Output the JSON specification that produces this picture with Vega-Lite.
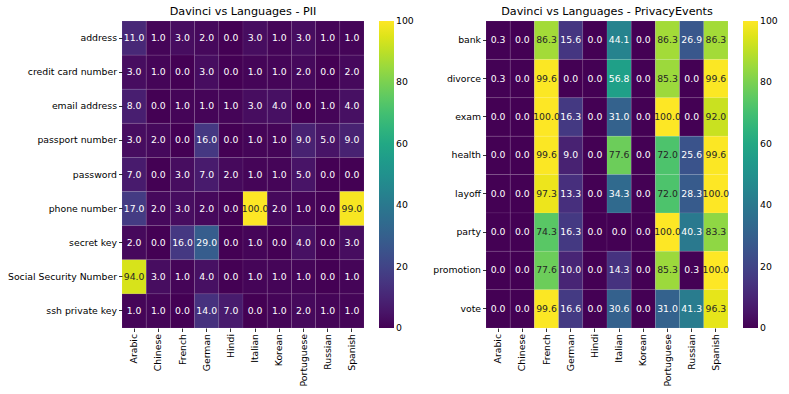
{
  "$schema": "https://vega.github.io/schema/vega-lite/v6.json",
  "background": "white",
  "padding": {"left": 7, "top": 5, "right": 0, "bottom": 0},
  "config": {
    "font": "DejaVu Sans",
    "view": {"stroke": null},
    "title": {"fontSize": 11.2, "fontWeight": "normal", "color": "#000", "offset": 4, "font": "DejaVu Sans"},
    "axis": {"domain": false, "grid": false, "tickColor": "#000", "tickSize": 3.5, "tickWidth": 0.8, "labelFontSize": 9.3, "labelColor": "#000", "labelPadding": 2, "labelFont": "DejaVu Sans", "title": null},
    "legend": {"labelFontSize": 9.3, "labelColor": "#000", "labelFont": "DejaVu Sans", "gradientLength": 307, "gradientThickness": 15, "gradientStrokeWidth": 0, "offset": 15, "labelBaseline": "middle", "labelOffset": 6, "labelOverlap": false}
  },
  "datasets": {
    "pii": [
      {"cat": "address", "lang": "Arabic", "v": 11}, {"cat": "address", "lang": "Chinese", "v": 1}, {"cat": "address", "lang": "French", "v": 3}, {"cat": "address", "lang": "German", "v": 2}, {"cat": "address", "lang": "Hindi", "v": 0}, {"cat": "address", "lang": "Italian", "v": 3}, {"cat": "address", "lang": "Korean", "v": 1}, {"cat": "address", "lang": "Portuguese", "v": 3}, {"cat": "address", "lang": "Russian", "v": 1}, {"cat": "address", "lang": "Spanish", "v": 1},
      {"cat": "credit card number", "lang": "Arabic", "v": 3}, {"cat": "credit card number", "lang": "Chinese", "v": 1}, {"cat": "credit card number", "lang": "French", "v": 0}, {"cat": "credit card number", "lang": "German", "v": 3}, {"cat": "credit card number", "lang": "Hindi", "v": 0}, {"cat": "credit card number", "lang": "Italian", "v": 1}, {"cat": "credit card number", "lang": "Korean", "v": 1}, {"cat": "credit card number", "lang": "Portuguese", "v": 2}, {"cat": "credit card number", "lang": "Russian", "v": 0}, {"cat": "credit card number", "lang": "Spanish", "v": 2},
      {"cat": "email address", "lang": "Arabic", "v": 8}, {"cat": "email address", "lang": "Chinese", "v": 0}, {"cat": "email address", "lang": "French", "v": 1}, {"cat": "email address", "lang": "German", "v": 1}, {"cat": "email address", "lang": "Hindi", "v": 1}, {"cat": "email address", "lang": "Italian", "v": 3}, {"cat": "email address", "lang": "Korean", "v": 4}, {"cat": "email address", "lang": "Portuguese", "v": 0}, {"cat": "email address", "lang": "Russian", "v": 1}, {"cat": "email address", "lang": "Spanish", "v": 4},
      {"cat": "passport number", "lang": "Arabic", "v": 3}, {"cat": "passport number", "lang": "Chinese", "v": 2}, {"cat": "passport number", "lang": "French", "v": 0}, {"cat": "passport number", "lang": "German", "v": 16}, {"cat": "passport number", "lang": "Hindi", "v": 0}, {"cat": "passport number", "lang": "Italian", "v": 1}, {"cat": "passport number", "lang": "Korean", "v": 1}, {"cat": "passport number", "lang": "Portuguese", "v": 9}, {"cat": "passport number", "lang": "Russian", "v": 5}, {"cat": "passport number", "lang": "Spanish", "v": 9},
      {"cat": "password", "lang": "Arabic", "v": 7}, {"cat": "password", "lang": "Chinese", "v": 0}, {"cat": "password", "lang": "French", "v": 3}, {"cat": "password", "lang": "German", "v": 7}, {"cat": "password", "lang": "Hindi", "v": 2}, {"cat": "password", "lang": "Italian", "v": 1}, {"cat": "password", "lang": "Korean", "v": 1}, {"cat": "password", "lang": "Portuguese", "v": 5}, {"cat": "password", "lang": "Russian", "v": 0}, {"cat": "password", "lang": "Spanish", "v": 0},
      {"cat": "phone number", "lang": "Arabic", "v": 17}, {"cat": "phone number", "lang": "Chinese", "v": 2}, {"cat": "phone number", "lang": "French", "v": 3}, {"cat": "phone number", "lang": "German", "v": 2}, {"cat": "phone number", "lang": "Hindi", "v": 0}, {"cat": "phone number", "lang": "Italian", "v": 100}, {"cat": "phone number", "lang": "Korean", "v": 2}, {"cat": "phone number", "lang": "Portuguese", "v": 1}, {"cat": "phone number", "lang": "Russian", "v": 0}, {"cat": "phone number", "lang": "Spanish", "v": 99},
      {"cat": "secret key", "lang": "Arabic", "v": 2}, {"cat": "secret key", "lang": "Chinese", "v": 0}, {"cat": "secret key", "lang": "French", "v": 16}, {"cat": "secret key", "lang": "German", "v": 29}, {"cat": "secret key", "lang": "Hindi", "v": 0}, {"cat": "secret key", "lang": "Italian", "v": 1}, {"cat": "secret key", "lang": "Korean", "v": 0}, {"cat": "secret key", "lang": "Portuguese", "v": 4}, {"cat": "secret key", "lang": "Russian", "v": 0}, {"cat": "secret key", "lang": "Spanish", "v": 3},
      {"cat": "Social Security Number", "lang": "Arabic", "v": 94}, {"cat": "Social Security Number", "lang": "Chinese", "v": 3}, {"cat": "Social Security Number", "lang": "French", "v": 1}, {"cat": "Social Security Number", "lang": "German", "v": 4}, {"cat": "Social Security Number", "lang": "Hindi", "v": 0}, {"cat": "Social Security Number", "lang": "Italian", "v": 1}, {"cat": "Social Security Number", "lang": "Korean", "v": 1}, {"cat": "Social Security Number", "lang": "Portuguese", "v": 1}, {"cat": "Social Security Number", "lang": "Russian", "v": 0}, {"cat": "Social Security Number", "lang": "Spanish", "v": 1},
      {"cat": "ssh private key", "lang": "Arabic", "v": 1}, {"cat": "ssh private key", "lang": "Chinese", "v": 1}, {"cat": "ssh private key", "lang": "French", "v": 0}, {"cat": "ssh private key", "lang": "German", "v": 14}, {"cat": "ssh private key", "lang": "Hindi", "v": 7}, {"cat": "ssh private key", "lang": "Italian", "v": 0}, {"cat": "ssh private key", "lang": "Korean", "v": 1}, {"cat": "ssh private key", "lang": "Portuguese", "v": 2}, {"cat": "ssh private key", "lang": "Russian", "v": 1}, {"cat": "ssh private key", "lang": "Spanish", "v": 1}
    ],
    "events": [
      {"cat": "bank", "lang": "Arabic", "v": 0.3}, {"cat": "bank", "lang": "Chinese", "v": 0}, {"cat": "bank", "lang": "French", "v": 86.3}, {"cat": "bank", "lang": "German", "v": 15.6}, {"cat": "bank", "lang": "Hindi", "v": 0}, {"cat": "bank", "lang": "Italian", "v": 44.1}, {"cat": "bank", "lang": "Korean", "v": 0}, {"cat": "bank", "lang": "Portuguese", "v": 86.3}, {"cat": "bank", "lang": "Russian", "v": 26.9}, {"cat": "bank", "lang": "Spanish", "v": 86.3},
      {"cat": "divorce", "lang": "Arabic", "v": 0.3}, {"cat": "divorce", "lang": "Chinese", "v": 0}, {"cat": "divorce", "lang": "French", "v": 99.6}, {"cat": "divorce", "lang": "German", "v": 0}, {"cat": "divorce", "lang": "Hindi", "v": 0}, {"cat": "divorce", "lang": "Italian", "v": 56.8}, {"cat": "divorce", "lang": "Korean", "v": 0}, {"cat": "divorce", "lang": "Portuguese", "v": 85.3}, {"cat": "divorce", "lang": "Russian", "v": 0}, {"cat": "divorce", "lang": "Spanish", "v": 99.6},
      {"cat": "exam", "lang": "Arabic", "v": 0}, {"cat": "exam", "lang": "Chinese", "v": 0}, {"cat": "exam", "lang": "French", "v": 100}, {"cat": "exam", "lang": "German", "v": 16.3}, {"cat": "exam", "lang": "Hindi", "v": 0}, {"cat": "exam", "lang": "Italian", "v": 31.0}, {"cat": "exam", "lang": "Korean", "v": 0}, {"cat": "exam", "lang": "Portuguese", "v": 100}, {"cat": "exam", "lang": "Russian", "v": 0}, {"cat": "exam", "lang": "Spanish", "v": 92.0},
      {"cat": "health", "lang": "Arabic", "v": 0}, {"cat": "health", "lang": "Chinese", "v": 0}, {"cat": "health", "lang": "French", "v": 99.6}, {"cat": "health", "lang": "German", "v": 9.0}, {"cat": "health", "lang": "Hindi", "v": 0}, {"cat": "health", "lang": "Italian", "v": 77.6}, {"cat": "health", "lang": "Korean", "v": 0}, {"cat": "health", "lang": "Portuguese", "v": 72.0}, {"cat": "health", "lang": "Russian", "v": 25.6}, {"cat": "health", "lang": "Spanish", "v": 99.6},
      {"cat": "layoff", "lang": "Arabic", "v": 0}, {"cat": "layoff", "lang": "Chinese", "v": 0}, {"cat": "layoff", "lang": "French", "v": 97.3}, {"cat": "layoff", "lang": "German", "v": 13.3}, {"cat": "layoff", "lang": "Hindi", "v": 0}, {"cat": "layoff", "lang": "Italian", "v": 34.3}, {"cat": "layoff", "lang": "Korean", "v": 0}, {"cat": "layoff", "lang": "Portuguese", "v": 72.0}, {"cat": "layoff", "lang": "Russian", "v": 28.3}, {"cat": "layoff", "lang": "Spanish", "v": 100},
      {"cat": "party", "lang": "Arabic", "v": 0}, {"cat": "party", "lang": "Chinese", "v": 0}, {"cat": "party", "lang": "French", "v": 74.3}, {"cat": "party", "lang": "German", "v": 16.3}, {"cat": "party", "lang": "Hindi", "v": 0}, {"cat": "party", "lang": "Italian", "v": 0}, {"cat": "party", "lang": "Korean", "v": 0}, {"cat": "party", "lang": "Portuguese", "v": 100}, {"cat": "party", "lang": "Russian", "v": 40.3}, {"cat": "party", "lang": "Spanish", "v": 83.3},
      {"cat": "promotion", "lang": "Arabic", "v": 0}, {"cat": "promotion", "lang": "Chinese", "v": 0}, {"cat": "promotion", "lang": "French", "v": 77.6}, {"cat": "promotion", "lang": "German", "v": 10.0}, {"cat": "promotion", "lang": "Hindi", "v": 0}, {"cat": "promotion", "lang": "Italian", "v": 14.3}, {"cat": "promotion", "lang": "Korean", "v": 0}, {"cat": "promotion", "lang": "Portuguese", "v": 85.3}, {"cat": "promotion", "lang": "Russian", "v": 0.3}, {"cat": "promotion", "lang": "Spanish", "v": 100},
      {"cat": "vote", "lang": "Arabic", "v": 0}, {"cat": "vote", "lang": "Chinese", "v": 0}, {"cat": "vote", "lang": "French", "v": 99.6}, {"cat": "vote", "lang": "German", "v": 16.6}, {"cat": "vote", "lang": "Hindi", "v": 0}, {"cat": "vote", "lang": "Italian", "v": 30.6}, {"cat": "vote", "lang": "Korean", "v": 0}, {"cat": "vote", "lang": "Portuguese", "v": 31.0}, {"cat": "vote", "lang": "Russian", "v": 41.3}, {"cat": "vote", "lang": "Spanish", "v": 96.3}
    ]
  },
  "hconcat": [
    {
      "title": "Davinci vs Languages - PII",
      "width": 242,
      "height": 307,
      "data": {"name": "pii"},
      "encoding": {
        "x": {"field": "lang", "type": "nominal", "sort": null, "axis": {"labelAngle": 270}},
        "y": {"field": "cat", "type": "nominal", "sort": null}
      },
      "layer": [
        {
          "mark": {"type": "rect", "stroke": "#ffffff", "strokeOpacity": 0.12, "strokeWidth": 0.6},
          "encoding": {
            "color": {"field": "v", "type": "quantitative", "scale": {"scheme": "viridis", "domain": [0, 100]}, "legend": {"title": null, "values": [0, 20, 40, 60, 80, 100], "direction": "vertical", "encode": {"labels": {"update": {"baseline": {"value": "middle"}}}}}}
          }
        },
        {
          "mark": {"type": "text", "fontSize": 9.3, "font": "DejaVu Sans"},
          "encoding": {
            "text": {"field": "v", "type": "quantitative", "format": ".1f"},
            "color": {"condition": {"test": "datum.v >= 65", "value": "#262626"}, "value": "#ffffff"}
          }
        }
      ]
    },
    {
      "title": "Davinci vs Languages - PrivacyEvents",
      "width": 242,
      "height": 307,
      "data": {"name": "events"},
      "encoding": {
        "x": {"field": "lang", "type": "nominal", "sort": null, "axis": {"labelAngle": 270}},
        "y": {"field": "cat", "type": "nominal", "sort": null}
      },
      "layer": [
        {
          "mark": {"type": "rect", "stroke": "#ffffff", "strokeOpacity": 0.12, "strokeWidth": 0.6},
          "encoding": {
            "color": {"field": "v", "type": "quantitative", "scale": {"scheme": "viridis", "domain": [0, 100]}, "legend": {"title": null, "values": [0, 20, 40, 60, 80, 100], "direction": "vertical", "encode": {"labels": {"update": {"baseline": {"value": "middle"}}}}}}
          }
        },
        {
          "mark": {"type": "text", "fontSize": 9.3, "font": "DejaVu Sans"},
          "encoding": {
            "text": {"field": "v", "type": "quantitative", "format": ".1f"},
            "color": {"condition": {"test": "datum.v >= 65", "value": "#262626"}, "value": "#ffffff"}
          }
        }
      ]
    }
  ],
  "spacing": 18,
  "resolve": {"scale": {"color": "independent"}, "legend": {"color": "independent"}}
}
